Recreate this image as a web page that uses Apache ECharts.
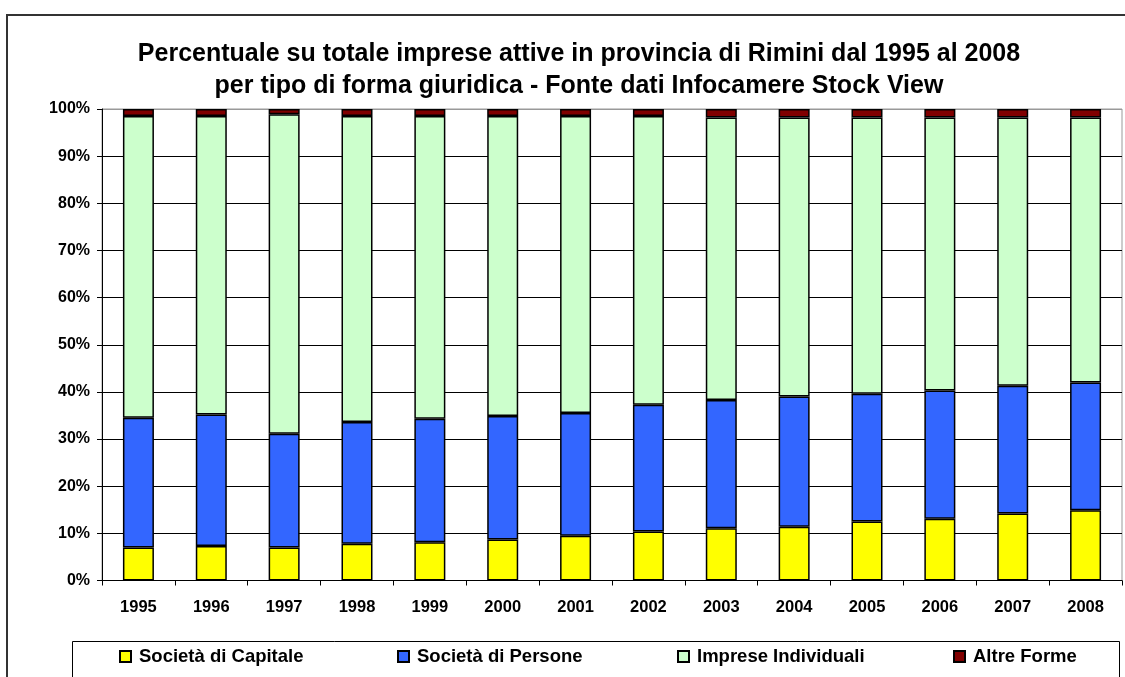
<!DOCTYPE html>
<html>
<head>
<meta charset="utf-8">
<script src="https://cdn.jsdelivr.net/npm/echarts@6/dist/echarts.min.js"></script>
<style>
  html, body { margin: 0; padding: 0; background: #fff; }
  #chart { width: 1125px; height: 677px; }
</style>
</head>
<body>
<div id="chart"></div>
<script>
const years = ['1995', '1996', '1997', '1998', '1999', '2000', '2001', '2002', '2003', '2004', '2005', '2006', '2007', '2008'];
const capitale = [7.0, 7.3, 7.0, 7.8, 8.1, 8.7, 9.5, 10.4, 11.1, 11.4, 12.5, 13.1, 14.2, 14.9];
const persone = [27.5, 27.9, 24.1, 25.8, 26.2, 26.2, 26.0, 26.9, 27.2, 27.6, 27.1, 27.2, 27.1, 27.1];
const individuali = [64.0, 63.3, 67.8, 64.9, 64.2, 63.6, 63.0, 61.2, 59.9, 59.2, 58.6, 57.9, 56.9, 56.2];
const altre = [1.5, 1.5, 1.1, 1.5, 1.5, 1.5, 1.5, 1.5, 1.8, 1.8, 1.8, 1.8, 1.8, 1.8];

const seriesNames = ['Società di Capitale', 'Società di Persone', 'Imprese Individuali', 'Altre Forme'];
const seriesColors = ['#FFFF00', '#3366FF', '#CCFFCC', '#800000'];
const seriesData = [capitale, persone, individuali, altre];
const legendLeft = [119, 397, 677, 953];

const font = 'Liberation Sans, Arial, sans-serif';

const myChart = echarts.init(document.getElementById('chart'));

// split line colours: black gridlines, grey at the top (plot border)
const splitColors = [];
for (let i = 0; i < 10; i++) splitColors.push('#000');
splitColors.push('#999');

const option = {
  animation: false,
  backgroundColor: '#fff',
  title: {
    text: 'Percentuale su totale imprese attive in provincia di Rimini dal 1995 al 2008\nper tipo di forma giuridica - Fonte dati Infocamere Stock View',
    left: 574,
    textAlign: 'center',
    top: 33,
    textStyle: {
      fontFamily: font,
      fontSize: 25,
      fontWeight: 'bold',
      color: '#000',
      lineHeight: 32
    }
  },
  graphic: [
    {
      type: 'rect',
      z: -10,
      shape: { x: 7, y: 15, width: 1200, height: 700 },
      style: { fill: 'none', stroke: '#333', lineWidth: 2 }
    },
    {
      type: 'rect',
      z: -10,
      shape: { x: 72.5, y: 641.5, width: 1047, height: 60 },
      style: { fill: '#fff', stroke: '#000', lineWidth: 1 }
    }
  ],
  legend: seriesNames.map((name, i) => ({
    data: [name],
    left: legendLeft[i],
    top: 647,
    padding: 0,
    itemWidth: 11,
    itemHeight: 11,
    itemGap: 0,
    icon: 'rect',
    selectedMode: false,
    textStyle: {
      fontFamily: font,
      fontSize: 18.5,
      fontWeight: 'bold',
      color: '#000',
      padding: [0, 0, 0, 3]
    }
  })),
  grid: {
    left: 102,
    right: 3,
    top: 109,
    bottom: 96.5,
    show: true,
    borderColor: '#999',
    borderWidth: 1
  },
  xAxis: {
    type: 'category',
    data: years,
    axisLine: { lineStyle: { color: '#000', width: 1 } },
    axisTick: { show: true, length: 5, lineStyle: { color: '#000' } },
    axisLabel: {
      fontFamily: font,
      fontSize: 16.5,
      fontWeight: 'bold',
      color: '#000',
      margin: 18
    }
  },
  yAxis: {
    type: 'value',
    min: 0,
    max: 100,
    interval: 10,
    axisLine: { show: true, lineStyle: { color: '#000', width: 1 } },
    axisTick: { show: true, length: 5, lineStyle: { color: '#000' } },
    splitLine: { show: true, lineStyle: { color: splitColors, width: 1 } },
    axisLabel: {
      formatter: '{value}%',
      fontFamily: font,
      fontSize: 16,
      fontWeight: 'bold',
      color: '#000',
      margin: 12
    }
  },
  series: seriesNames.map((name, i) => ({
    name: name,
    type: 'bar',
    stack: 'total',
    data: seriesData[i],
    barWidth: 31,
    itemStyle: {
      color: seriesColors[i],
      borderColor: '#000',
      borderWidth: 1.5
    }
  }))
};

myChart.setOption(option);
</script>
</body>
</html>
